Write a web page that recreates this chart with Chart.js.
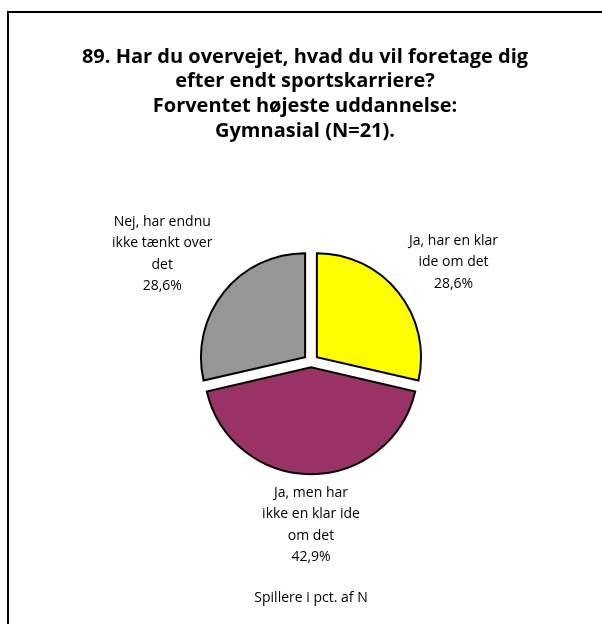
<!DOCTYPE html>
<html><head><meta charset="utf-8">
<script src="https://cdn.jsdelivr.net/npm/chart.js@4.4.1/dist/chart.umd.min.js"></script>
<style>html,body{margin:0;padding:0;background:#fff}#wrap{width:602px;height:624px;position:relative}canvas{display:block}</style>
</head><body><div id="wrap"><canvas id="c" width="602" height="624" style="width:602px;height:624px"></canvas></div>
<script>
const titleLines = ["89. Har du overvejet, hvad du vil foretage dig", "efter endt sportskarriere?", "Forventet højeste uddannelse:", "Gymnasial (N=21)."];
const categories = ["Ja, har en klar\nide om det", "Ja, men har\nikke en klar ide\nom det", "Nej, har endnu\nikke tænkt over\ndet"];
const values = [28.6, 42.9, 28.6];
const colors = ["#FFFF00", "#993366", "#969696"];
const footnote = "Spillere i pct. af N";

const LABEL_FONT = '14px "Open Sans", "DejaVu Sans", sans-serif';
const TITLE_FONT = 'bold 20px "Open Sans", "DejaVu Sans", sans-serif';
const LINE_H = 21.5;

function fmtPct(v) { return v.toFixed(1).replace('.', ',') + '%'; }

const decor = {
  id: 'decor',
  beforeDraw(chart) {
    const ctx = chart.ctx;
    ctx.save();
    ctx.fillStyle = '#fff';
    ctx.fillRect(0, 0, chart.width, chart.height);
    ctx.fillStyle = '#000';
    ctx.fillRect(7, 11, chart.width, 2);
    ctx.fillRect(7, 11, 2, chart.height);
    ctx.restore();
  },
  afterDraw(chart) {
    const ctx = chart.ctx;
    ctx.save();
    ctx.fillStyle = '#000';
    ctx.textAlign = 'center';
    ctx.textBaseline = 'middle';
    // title
    ctx.font = TITLE_FONT;
    const tx = 305;
    titleLines.forEach((l, i) => ctx.fillText(l, tx, 57 + i * 24.7));
    // labels
    ctx.font = LABEL_FONT;
    const meta = chart.getDatasetMeta(0);
    meta.data.forEach((arc, i) => {
      const lines = categories[i].split('\n').concat([fmtPct(values[i])]);
      const mid = (arc.startAngle + arc.endAngle) / 2;
      const dx = Math.cos(mid), dy = Math.sin(mid);
      const R = arc.outerRadius;
      const gap = 16;
      const w = Math.max(...lines.map(l => ctx.measureText(l).width));
      const h = lines.length * LINE_H;
      const ax = arc.x + dx * (R + gap), ay = arc.y + dy * (R + gap);
      const sy = Math.abs(dy) < 0.2 ? 0 : Math.sign(dy);
      const cx = ax + dx * w / 2 * 1.4;
      const cy = ay + (0.4 * sy + 0.6 * dy) * h / 2;
      lines.forEach((l, j) => ctx.fillText(l, cx, cy - h / 2 + LINE_H / 2 + j * LINE_H));
    });
    ctx.fillText(footnote, meta.data[0].x, 598);
    ctx.restore();
  }
};

new Chart(document.getElementById('c'), {
  type: 'pie',
  data: {
    labels: categories,
    datasets: [{
      data: values,
      backgroundColor: colors,
      borderColor: '#000',
      borderWidth: 2,
      offset: [30, 21, 30],
      borderJoinStyle: 'miter'
    }]
  },
  options: {
    responsive: false,
    animation: false,
    radius: 104,
    layout: { padding: { left: 20, right: 0, top: 250, bottom: 150 } },
    plugins: { legend: { display: false }, tooltip: { enabled: false }, title: { display: false } }
  },
  plugins: [decor]
});
</script>
</body></html>
